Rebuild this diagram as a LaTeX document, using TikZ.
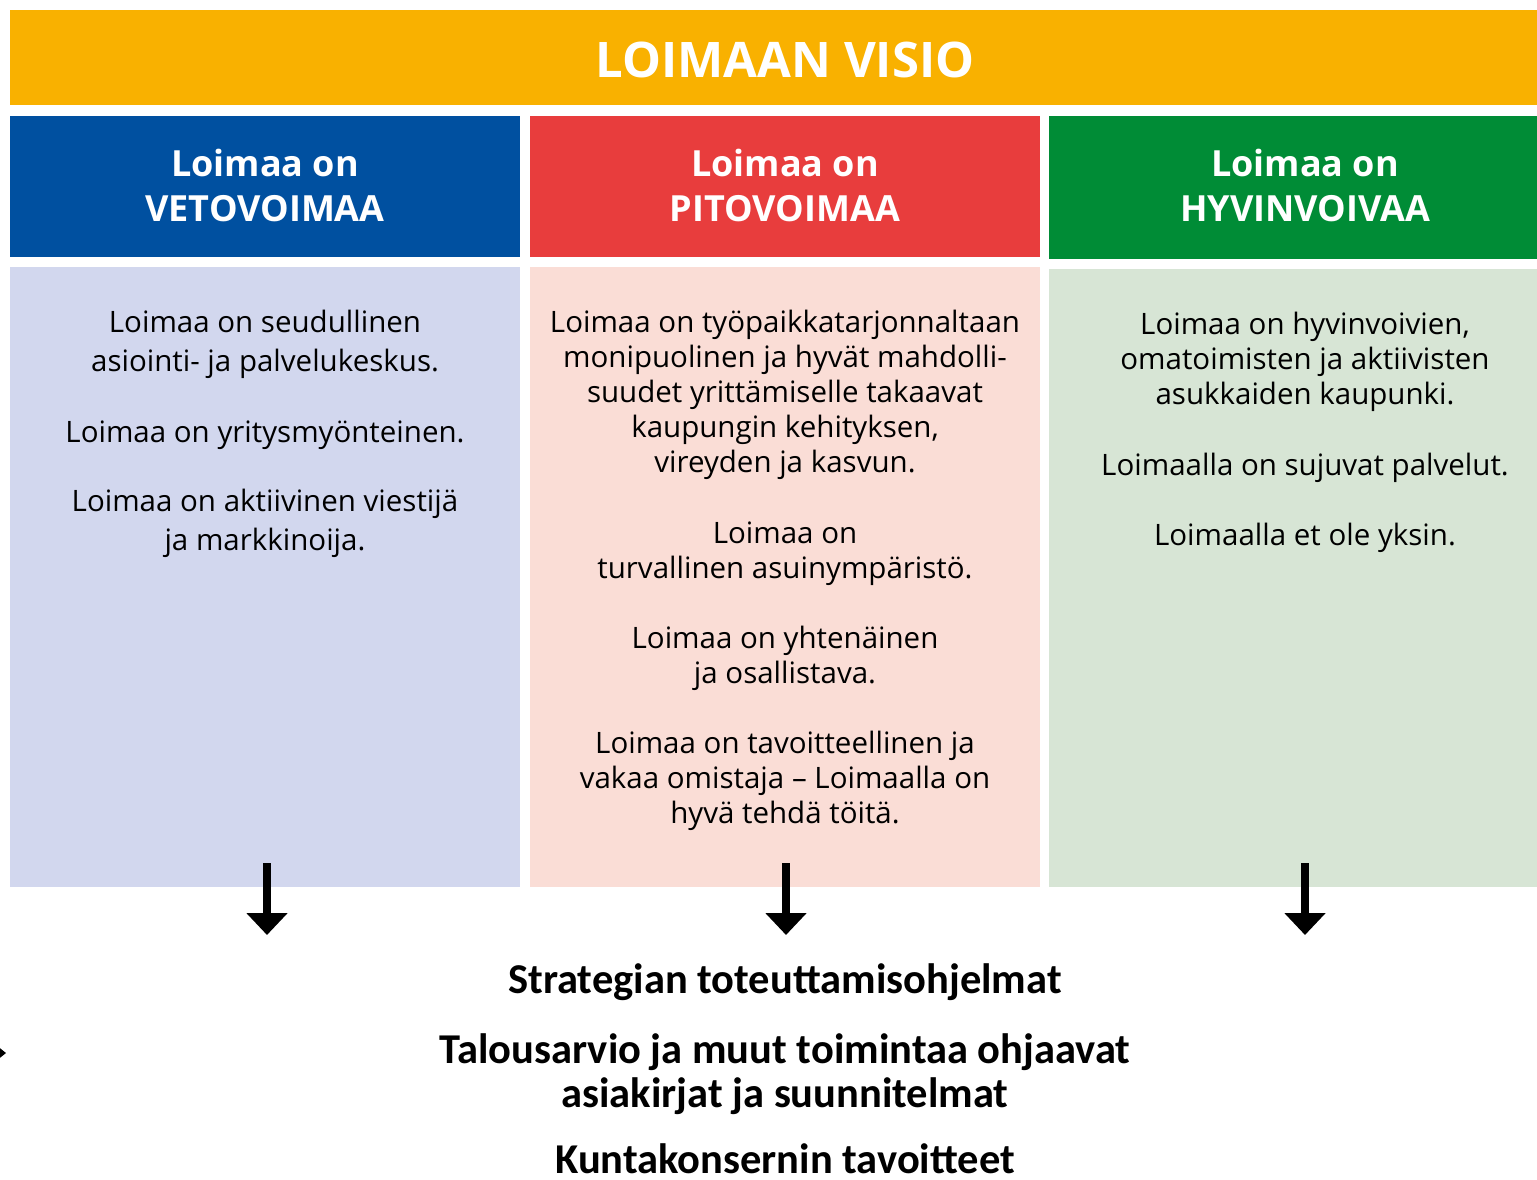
\documentclass[tikz,border=0pt]{standalone}
\usepackage{fontspec}
\setmainfont{Open Sans}
\newfontfamily\calibfont{Carlito}
\usetikzlibrary{arrows.meta}
\definecolor{visio}{HTML}{F9B100}
\definecolor{vblue}{HTML}{0050A0}
\definecolor{vred}{HTML}{E83D3D}
\definecolor{vgreen}{HTML}{008C36}
\definecolor{lblue}{HTML}{D2D7EE}
\definecolor{lred}{HTML}{FADDD6}
\definecolor{lgreen}{HTML}{D7E5D5}
\tikzset{
  panel/.style={inner sep=0pt, outer sep=0pt, anchor=north west},
  titletext/.style={text=white, font=\fontsize{49}{56}\selectfont\bfseries, anchor=base, inner sep=0pt},
  hdrtext/.style={text=white, font=\fontsize{36}{45}\selectfont\bfseries, anchor=base, inner sep=0pt},
  body/.style={text=black, font=\fontsize{29.5}{35}\selectfont, anchor=base, inner sep=0pt},
  bottomtext/.style={text=black, font=\fontsize{42.5}{46}\selectfont\calibfont\bfseries, anchor=base, inner sep=0pt},
  downarrow/.style={line width=8pt, -{Triangle[length=22pt, width=40pt]}}
}
\begin{document}
\begin{tikzpicture}[x=1pt, y=-1pt]
\useasboundingbox (0,0) rectangle (1537,1179);
\fill[white] (0,0) rectangle (1537,1179);
% title bar
\node[panel, fill=visio, minimum width=1527pt, minimum height=95pt] (bar) at (10,10) {};
\node[titletext] (title) at (785,77) {LOIMAAN VISIO};
% headers
\node[panel, fill=vblue, minimum width=510pt, minimum height=141pt] (hb) at (10,116) {};
\node[panel, fill=vred, minimum width=510pt, minimum height=141pt] (hr) at (530,116) {};
\node[panel, fill=vgreen, minimum width=488pt, minimum height=143pt] (hg) at (1049,116) {};
\node[hdrtext] (hb1) at (265,176) {Loimaa on};
\node[hdrtext] (hb2) at (265,221) {VETOVOIMAA};
\node[hdrtext] (hr1) at (785,176) {Loimaa on};
\node[hdrtext] (hr2) at (785,221) {PITOVOIMAA};
\node[hdrtext] (hg1) at (1305,176) {Loimaa on};
\node[hdrtext] (hg2) at (1305,221) {HYVINVOIVAA};
% content panels
\node[panel, fill=lblue, minimum width=510pt, minimum height=620pt] (pb) at (10,267) {};
\node[panel, fill=lred, minimum width=510pt, minimum height=620pt] (pr) at (530,267) {};
\node[panel, fill=lgreen, minimum width=488pt, minimum height=618pt] (pg) at (1049,269) {};
% left column
\node[body] (l1) at (265,332) {Loimaa on seudullinen};
\node[body] (l2) at (265,371) {asiointi- ja palvelukeskus.};
\node[body] (l3) at (265,442) {Loimaa on yritysmyönteinen.};
\node[body] (l4) at (265,511) {Loimaa on aktiivinen viestijä};
\node[body] (l5) at (265,550) {ja markkinoija.};
% middle column
\node[body] (m1) at (785,332) {Loimaa on työpaikkatarjonnaltaan};
\node[body] (m2) at (785,367) {monipuolinen ja hyvät mahdolli-};
\node[body] (m3) at (785,402) {suudet yrittämiselle takaavat};
\node[body] (m4) at (785,437) {kaupungin kehityksen,};
\node[body] (m5) at (785,472) {vireyden ja kasvun.};
\node[body] (m6) at (785,543) {Loimaa on};
\node[body] (m7) at (785,578) {turvallinen asuinympäristö.};
\node[body] (m8) at (785,648) {Loimaa on yhtenäinen};
\node[body] (m9) at (785,683) {ja osallistava.};
\node[body] (m10) at (785,753) {Loimaa on tavoitteellinen ja};
\node[body] (m11) at (785,788) {vakaa omistaja – Loimaalla on};
\node[body] (m12) at (785,823) {hyvä tehdä töitä.};
% right column
\node[body] (r1) at (1305,334) {Loimaa on hyvinvoivien,};
\node[body] (r2) at (1305,369) {omatoimisten ja aktiivisten};
\node[body] (r3) at (1305,404) {asukkaiden kaupunki.};
\node[body] (r4) at (1305,475) {Loimaalla on sujuvat palvelut.};
\node[body] (r5) at (1305,545) {Loimaalla et ole yksin.};
% arrows
\coordinate (a1s) at (267,863); \coordinate (a1e) at (267,935);
\coordinate (a2s) at (786,863); \coordinate (a2e) at (786,935);
\coordinate (a3s) at (1305,863); \coordinate (a3e) at (1305,935);
\draw[downarrow] (a1s) -- (a1e);
\draw[downarrow] (a2s) -- (a2e);
\draw[downarrow] (a3s) -- (a3e);
% partial arrowhead at left edge
\coordinate (lt) at (6,1053);
\fill[black] (-14,1037) -- (lt) -- (-14,1069) -- cycle;
% bottom texts
\node[bottomtext] (b1) at (785,993) {Strategian toteuttamisohjelmat};
\node[bottomtext] (b2) at (785,1063) {Talousarvio ja muut toimintaa ohjaavat};
\node[bottomtext] (b3) at (785,1107) {asiakirjat ja suunnitelmat};
\node[bottomtext] (b4) at (785,1173) {Kuntakonsernin tavoitteet};
\end{tikzpicture}
\end{document}
